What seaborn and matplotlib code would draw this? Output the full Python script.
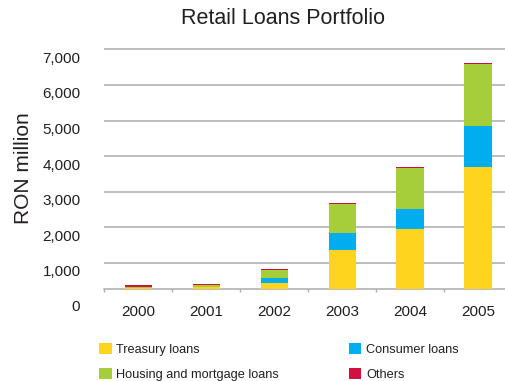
import numpy as np
import pandas as pd
import matplotlib
matplotlib.use("Agg")
import matplotlib.pyplot as plt
import matplotlib.transforms as mtransforms
import seaborn as sns

# Retail loans by category, RON million
years = ["2000", "2001", "2002", "2003", "2004", "2005"]
treasury = [300, 326, 438, 1364, 1954, 3694]
consumer = [0, 5, 149, 486, 561, 1152]
housing = [25, 42, 224, 814, 1160, 1740]
others = [57, 37, 28, 28, 28, 23]

series_names = ["Treasury loans", "Consumer loans", "Housing and mortgage loans", "Others"]
series_colors = ["#FFD41F", "#00AEEF", "#A6CE39", "#D0103F"]

y_ticks = [1000, 2000, 3000, 4000, 5000, 6000, 7000]
y_tick_labels = ["1,000", "2,000", "3,000", "4,000", "5,000", "6,000", "7,000"]

sns.set_theme(style="white")
plt.rcParams["font.family"] = ["Liberation Sans", "DejaVu Sans"]
TEXT = "#231F20"
GRID = "#ABABAB"

df = pd.DataFrame({
    "year": years,
    "Treasury loans": treasury,
    "Consumer loans": consumer,
    "Housing and mortgage loans": housing,
    "Others": others,
})
cum = df[series_names].cumsum(axis=1)

fig = plt.figure(figsize=(5.05, 3.81), dpi=100)
ax = fig.add_axes([0.2065, 0.2415, 0.8073, 0.6572])

# stacked bars: draw cumulative totals from the top layer down
for name, color in reversed(list(zip(series_names, series_colors))):
    sns.barplot(x=df["year"], y=cum[name], color=color, width=0.4,
                saturation=1, errorbar=None, label=name, ax=ax, zorder=3,
                linewidth=0)

if ax.get_legend() is not None:
    ax.get_legend().remove()

ax.set_xlim(-0.5, 5.5)
ax.set_ylim(270, 7300)
ax.set_xlabel("")
ax.set_ylabel("")

# horizontal grid
ax.set_yticks(y_ticks)
ax.set_yticklabels(y_tick_labels)
ax.yaxis.grid(True, color=GRID, linewidth=1.1)
ax.xaxis.grid(False)
ax.set_axisbelow(True)
ax.tick_params(axis="y", length=0, pad=17, labelsize=11, labelcolor=TEXT)

for side in ["left", "top", "right"]:
    ax.spines[side].set_visible(False)
ax.spines["bottom"].set_color(GRID)
ax.spines["bottom"].set_linewidth(1.1)

# x axis: year labels in the middle, small marks between categories
ax.set_xticks(range(len(years)))
ax.set_xticklabels(years)
ax.set_xticks(np.arange(-0.5, len(years), 1.0), minor=True)
ax.tick_params(axis="x", which="major", length=0, pad=11.5, labelsize=11, labelcolor=TEXT)
ax.tick_params(axis="x", which="minor", bottom=True, length=2.5, width=1.0,
               color=GRID, direction="out")

# shift y labels slightly below their gridlines
offset = mtransforms.ScaledTranslation(0, -8 / 100, fig.dpi_scale_trans)
for lab in ax.get_yticklabels():
    lab.set_transform(lab.get_transform() + offset)

ax.annotate("0", xy=(0, 0), xycoords=ax.get_yaxis_transform(),
            xytext=(-24, -8), textcoords="offset pixels",
            ha="right", va="center", fontsize=11, color=TEXT,
            annotation_clip=False)

fig.text(283 / 505, 1 - 18 / 381, "Retail Loans Portfolio", ha="center", va="center",
         fontsize=15.5, color=TEXT)
fig.text(24 / 505, 1 - 168 / 381, "RON million", rotation=90, ha="center", va="center",
         fontsize=15, color=TEXT)

handles, labels = ax.get_legend_handles_labels()
lookup = dict(zip(labels, handles))
order = ["Treasury loans", "Housing and mortgage loans", "Consumer loans", "Others"]
fig.legend([lookup[n] for n in order], order, ncol=2, loc="upper left",
           bbox_to_anchor=(99 / 505, 1 - 343 / 381), frameon=False, fontsize=9.2,
           handlelength=1.0, handleheight=1.0, handletextpad=0.35,
           columnspacing=5.45, labelspacing=0.9, borderpad=0, borderaxespad=0,
           labelcolor=TEXT)

fig.savefig("out.png", dpi=100)
